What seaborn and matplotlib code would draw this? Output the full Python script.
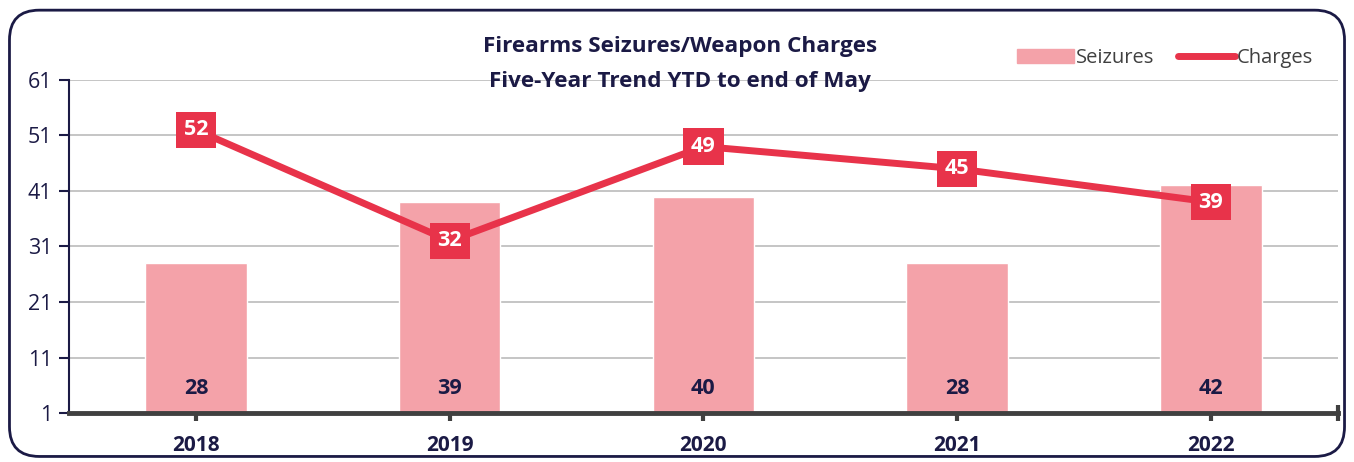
import pandas as pd
import seaborn as sns
import matplotlib.pyplot as plt
from matplotlib.patches import FancyBboxPatch, Patch
from matplotlib.lines import Line2D

years = ['2018', '2019', '2020', '2021', '2022']
seizures = [28, 39, 40, 28, 42]
charges = [52, 32, 49, 45, 39]

navy = '#1B1A45'
bar_col = '#F4A2A9'
line_col = '#E8334A'

df = pd.DataFrame({'year': years, 'seizures': seizures, 'charges': charges})

sns.set_style('white')
plt.rcParams['font.family'] = ['Open Sans', 'DejaVu Sans']

fig = plt.figure(figsize=(13.54, 4.62), dpi=100)
ax = fig.add_axes([0.051, 0.106, 0.937, 0.721])

sns.barplot(data=df, x='year', y='seizures', color=bar_col, saturation=1,
            width=0.4, ax=ax, zorder=2)
sns.pointplot(data=df, x='year', y='charges', color=line_col, markers='',
              linewidth=5, ax=ax, zorder=3)

ax.set_ylim(1, 61)
ax.set_xlim(-0.5, 4.5)
ax.set_yticks(range(1, 62, 10))
ax.set_xticks([4.5], minor=True)
ax.yaxis.grid(True, color='#BBBBBB', lw=1.2, zorder=0)
ax.set_axisbelow(True)
ax.set_xlabel('')
ax.set_ylabel('')

for s in ['top', 'right']:
    ax.spines[s].set_visible(False)
ax.spines['left'].set_color(navy)
ax.spines['left'].set_linewidth(1.5)
ax.spines['bottom'].set_color('#404040')
ax.spines['bottom'].set_linewidth(3.5)
ax.spines['bottom'].set_zorder(5)

ax.tick_params(axis='y', left=True, length=7, width=1.5, color=navy,
               labelsize=15.5, labelcolor=navy, pad=5)
ax.tick_params(axis='x', which='both', bottom=True, direction='inout', length=11,
               width=3, color='#404040', labelsize=15, labelcolor=navy, pad=10)
for lab in ax.get_xticklabels():
    lab.set_fontweight('bold')

for i, v in enumerate(seizures):
    ax.text(i, 5.5, str(v), ha='center', va='center', fontsize=15.5,
            fontweight='bold', color=navy, zorder=4)
for i, v in enumerate(charges):
    ax.text(i, v, str(v), ha='center', va='center', fontsize=15.5,
            fontweight='bold', color='white', zorder=6,
            bbox=dict(boxstyle='square,pad=0.36', fc=line_col, ec='none'))

fig.text(0.502, 0.9, 'Firearms Seizures/Weapon Charges', ha='center',
         va='center', fontsize=16.2, fontweight='bold', color=navy)
fig.text(0.502, 0.824, 'Five-Year Trend YTD to end of May', ha='center',
         va='center', fontsize=16.2, fontweight='bold', color=navy)

handles = [Patch(color=bar_col, label='Seizures'),
           Line2D([0], [0], color=line_col, lw=5, solid_capstyle='round', label='Charges')]
fig.legend(handles=handles, loc='center right', bbox_to_anchor=(0.983, 0.875),
           ncol=2, frameon=False, fontsize=14.5, handlelength=2.8, handletextpad=0.1,
           columnspacing=1.2, labelcolor='#404040')

border = FancyBboxPatch((0.007, 0.012), 0.986, 0.966,
                        boxstyle='round,pad=0,rounding_size=0.022',
                        transform=fig.transFigure, fill=False, ec=navy, lw=2,
                        mutation_aspect=1354 / 462)
fig.patches.append(border)

fig.savefig('out.png', dpi=100)
